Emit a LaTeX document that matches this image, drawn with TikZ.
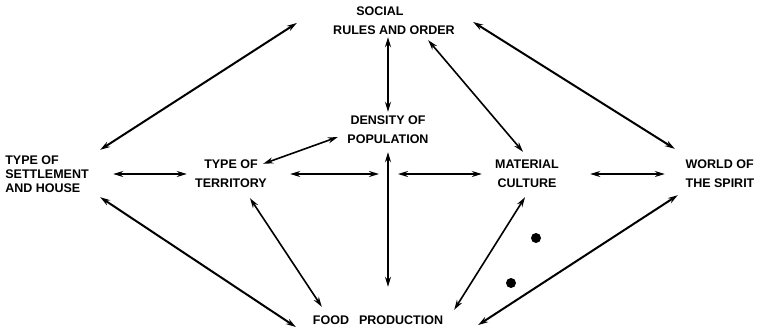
\documentclass[tikz,border=0pt]{standalone}
\usepackage{fontspec}
\setsansfont{Liberation Sans}
\usetikzlibrary{arrows.meta}
\usetikzlibrary{calc}

\begin{document}
\begin{tikzpicture}[x=1pt,y=-1pt,
    factor/.style={inner sep=0pt,align=center,font=\sffamily\bfseries\fontsize{12.5}{19}\selectfont},
    link/.style={{Stealth[length=10pt,width=6pt]}-{Stealth[length=10pt,width=6pt]},line width=1.6pt,black},
    blot/.style={black}]
    \useasboundingbox (0,0) rectangle (769,330);
    % Factors
    \node[factor,minimum width=128,minimum height=38] (social) at (394,21) {\hspace*{-28pt}SOCIAL\\RULES AND ORDER};
    \node[factor,minimum width=90,minimum height=38] (density) at (388,130) {DENSITY OF\\POPULATION};
    \node[factor,align=left,minimum width=86,minimum height=44,font=\sffamily\bfseries\fontsize{12.5}{14}\selectfont] (settle) at (47,174) {TYPE OF\\SETTLEMENT\\AND HOUSE};
    \node[factor,minimum width=74,minimum height=36] (territory) at (231,174) {TYPE OF\\TERRITORY};
    \node[factor,minimum width=72,minimum height=36] (material) at (527,174) {MATERIAL\\CULTURE};
    \node[factor,align=left,minimum width=82,minimum height=36] (spirit) at (720,174) {WORLD OF\\THE SPIRIT};
    \node[factor,minimum width=132,minimum height=16] (food) at (378,320) {FOOD\hspace{0.8em}PRODUCTION};
    \coordinate (hub) at (388,174);
    % Upper links
    \draw[link,line width=2pt] ($(settle.north east)+(10,-2)$) to ($(social.west)+(-33,2)$);
    \draw[link] ($(social.south -| density.north)+(0,-3)$) to ($(density.north)+(0,1)$);
    \draw[link] ($(social.south east)+(-30,0)$) to ($(material.north)+(-4,-4)$);
    \draw[link,line width=2pt] ($(social.east)+(15,1)$) to ($(spirit.north west)+(-4,-7)$);
    \draw[link] ($(territory.north east)+(-5,8)$) to ($(density.west)+(-5,7)$);
    % Middle row
    \draw[link] ($(settle.east)+(23,0)$) to ($(territory.west)+(-7,0)$);
    \draw[link] ($(territory.east)+(22,0)$) to ($(hub)+(-9,0)$);
    \draw[link] ($(hub)+(10,0)$) to ($(material.west)+(-9,0)$);
    \draw[link] ($(material.east)+(27,0)$) to ($(spirit.west)+(-14,0)$);
    \draw[link] ($(density.south)+(0,3)$) to ($(food.north -| density.south)+(0,-25)$);
    % Lower links
    \draw[link,line width=2pt] ($(settle.south east)+(10,1)$) to ($(food.west)+(-16,7)$);
    \draw[link] ($(territory.south)+(19,6)$) to ($(food.north west)+(10,-5)$);
    \draw[link] ($(material.south)+(-2,5)$) to ($(food.north east)+(10,-2)$);
    \draw[link,line width=2pt] ($(spirit.south west)+(-1,3)$) to ($(food.east)+(34,5)$);
    % Blots
    \fill[blot] (536,238) circle (5);
    \fill[blot] (511,283) circle (5);
\end{tikzpicture}
\end{document}
